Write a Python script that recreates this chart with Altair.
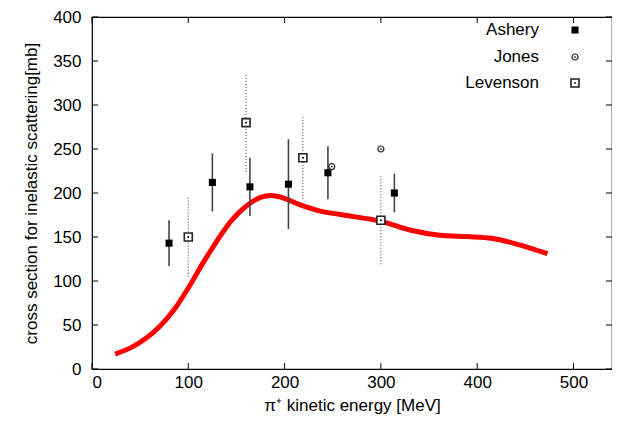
import altair as alt
import pandas as pd

# --- data ---
ashery_x = [80, 125, 164, 204, 245, 314]
ashery_y = [143, 212, 207, 210, 223, 200]
ashery_err = [26, 33, 33, 51, 30, 22]

jones_x = [249, 300]
jones_y = [230, 250]

levenson_x = [100, 160, 219, 300]
levenson_y = [150, 280, 240, 169]
levenson_err = [45, 56, 47, 50]

curve_x = [24, 40, 55, 70, 85, 100, 115, 130, 145, 160, 175, 188, 200, 215,
           235, 261, 299, 330, 361, 390, 415, 441, 473]
curve_y = [17, 24, 34, 48, 67, 92, 120, 146, 169, 185, 195, 197, 194, 187,
           180, 175, 168, 158, 152, 150.5, 148.5, 142, 131]

x_ticks = [0, 100, 200, 300, 400, 500]
y_ticks = [0, 50, 100, 150, 200, 250, 300, 350, 400]

legend_names = ["Ashery", "Jones", "Levenson"]

W, H = 520, 352
FONT = "Liberation Sans"
FS = 17

xs = alt.Scale(domain=[0, 540], nice=False, zero=False)
ys = alt.Scale(domain=[0, 400], nice=False, zero=False)

ash = pd.DataFrame({"x": ashery_x, "y": ashery_y,
                    "lo": [a - e for a, e in zip(ashery_y, ashery_err)],
                    "hi": [a + e for a, e in zip(ashery_y, ashery_err)]})
jon = pd.DataFrame({"x": jones_x, "y": jones_y})
lev = pd.DataFrame({"x": levenson_x, "y": levenson_y,
                    "lo": [a - e for a, e in zip(levenson_y, levenson_err)],
                    "hi": [a + e for a, e in zip(levenson_y, levenson_err)]})
cur = pd.DataFrame({"x": curve_x, "y": curve_y})
xt = pd.DataFrame({"x": x_ticks})
yt = pd.DataFrame({"y": y_ticks})

X = alt.X("x:Q", scale=xs, title="π⁺ kinetic energy [MeV]",
          axis=alt.Axis(values=x_ticks, ticks=False, domain=False, grid=False,
                        labelPadding=5, titlePadding=7))
Y = alt.Y("y:Q", scale=ys, title="cross section for inelastic scattering[mb]",
          axis=alt.Axis(values=y_ticks, ticks=False, domain=False, grid=False,
                        labelPadding=11, titlePadding=12))
Xp = alt.X("x:Q", scale=xs)
Yp = alt.Y("y:Q", scale=ys)
Ylo = alt.Y("lo:Q", scale=ys)

base_curve = alt.Chart(cur).mark_line(color="#ff0000", strokeWidth=5,
                                      interpolate="catmull-rom").encode(x=X, y=Y)

ash_err = alt.Chart(ash).mark_rule(color="#444444", strokeWidth=1.6).encode(
    x=Xp, y=Ylo, y2="hi:Q")
ash_pts = alt.Chart(ash).mark_point(shape="square", filled=True, size=50,
                                    color="black", opacity=1).encode(x=Xp, y=Yp)

lev_err = alt.Chart(lev).mark_rule(color="#333333", strokeWidth=1,
                                   strokeDash=[1, 2]).encode(
    x=Xp, y=Ylo, y2="hi:Q")
lev_box = alt.Chart(lev).mark_point(shape="square", filled=True, size=64,
                                    color="white", stroke="#222222",
                                    strokeWidth=1.6, opacity=1).encode(x=Xp, y=Yp)
lev_dot = alt.Chart(lev).mark_point(shape="square", filled=True, size=3,
                                    color="black", opacity=1).encode(x=Xp, y=Yp)

jon_c = alt.Chart(jon).mark_point(shape="circle", filled=False, size=36,
                                  color="#222222", strokeWidth=1.2,
                                  opacity=1).encode(x=Xp, y=Yp)
jon_dot = alt.Chart(jon).mark_point(shape="circle", filled=True, size=3,
                                    color="black", opacity=1).encode(x=Xp, y=Yp)

# inward mirrored ticks (gnuplot style)
tl = 6
xb = alt.Chart(xt).mark_rule(color="black").encode(
    x=Xp, y=alt.value(H), y2=alt.value(H - tl))
xtop = alt.Chart(xt).mark_rule(color="black").encode(
    x=Xp, y=alt.value(0), y2=alt.value(tl))
yl = alt.Chart(yt).mark_rule(color="black").encode(
    y=Yp, x=alt.value(0), x2=alt.value(tl))
yr = alt.Chart(yt).mark_rule(color="black").encode(
    y=Yp, x=alt.value(W - tl), x2=alt.value(W))

# legend (fixed pixel positions inside the plot, like gnuplot's key)
leg = pd.DataFrame({"name": legend_names})
rows_y = [13, 40, 66]
SX = 483
legend_layers = []
for i, nm in enumerate(legend_names):
    d = leg[leg.name == nm]
    legend_layers.append(
        alt.Chart(d).mark_text(align="right", baseline="middle", font=FONT,
                               fontSize=FS, color="black").encode(
            text="name:N", x=alt.value(447), y=alt.value(rows_y[i])))
leg_a = alt.Chart(leg[leg.name == "Ashery"]).mark_point(
    shape="square", filled=True, size=50, color="black", opacity=1).encode(
    x=alt.value(SX), y=alt.value(rows_y[0]))
leg_j = alt.Chart(leg[leg.name == "Jones"]).mark_point(
    shape="circle", filled=False, size=36, color="#222222", strokeWidth=1.2,
    opacity=1).encode(x=alt.value(SX), y=alt.value(rows_y[1]))
leg_jd = alt.Chart(leg[leg.name == "Jones"]).mark_point(
    shape="circle", filled=True, size=3, color="black", opacity=1).encode(
    x=alt.value(SX), y=alt.value(rows_y[1]))
leg_l = alt.Chart(leg[leg.name == "Levenson"]).mark_point(
    shape="square", filled=True, size=64, color="white", stroke="#222222",
    strokeWidth=1.6, opacity=1).encode(x=alt.value(SX), y=alt.value(rows_y[2]))
leg_ld = alt.Chart(leg[leg.name == "Levenson"]).mark_point(
    shape="square", filled=True, size=3, color="black", opacity=1).encode(
    x=alt.value(SX), y=alt.value(rows_y[2]))

chart = alt.layer(
    base_curve, ash_err, lev_err, lev_box, lev_dot, ash_pts, jon_c, jon_dot,
    xb, xtop, yl, yr,
    *legend_layers, leg_a, leg_j, leg_jd, leg_l, leg_ld,
).properties(
    width=W, height=H,
    autosize=alt.AutoSizeParams(type="none"),
    padding={"left": 84, "top": 9, "right": 0, "bottom": 46},
).configure_view(stroke="black", strokeWidth=1.2).configure_axis(
    labelFont=FONT, titleFont=FONT, labelFontSize=FS, titleFontSize=FS,
    labelColor="black", titleColor="black", titleFontWeight="normal",
)

chart.save("out.html", embed_options={"renderer": "svg", "actions": False})
